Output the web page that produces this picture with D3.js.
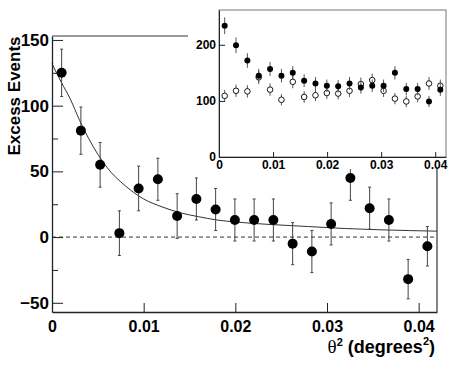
<!DOCTYPE html>
<html>
<head>
<meta charset="utf-8">
<script src="https://cdn.jsdelivr.net/npm/d3@7"></script>
<style>
  html, body { margin: 0; padding: 0; background: #fff; }
  svg { display: block; font-family: "Liberation Sans", Arial, sans-serif; }
  .tick text { font-weight: bold; fill: #000; }
</style>
</head>
<body>
<svg id="chart" width="463" height="372"></svg>
<script>
// bin centres, theta^2 in degrees^2
var thetaSq = [0.00105, 0.00315, 0.00525, 0.00735, 0.00945, 0.01155, 0.01365, 0.01575, 0.01785, 0.01995,
               0.02205, 0.02415, 0.02625, 0.02835, 0.03045, 0.03255, 0.03465, 0.03675, 0.03885, 0.04095];

// main panel: excess events
var excess    = [125, 81, 55, 3, 37, 44, 16, 29, 21, 13, 13, 13, -5, -11, 10, 45, 22, 13, -32, -7];
var excessErr = [18, 18, 17, 17, 17, 16, 17, 16, 16, 16, 16, 16, 16, 16, 16, 17, 16, 16, 15, 15];

// fitted curve
var fitX = [0, 0.001, 0.002, 0.003, 0.004, 0.005, 0.006, 0.008, 0.010, 0.012, 0.014, 0.016, 0.018, 0.020, 0.024, 0.028, 0.032, 0.036, 0.042];
var fitY = [132, 118, 105, 89, 75, 63, 53, 39, 29, 23, 18.5, 15.5, 13, 11.5, 9.5, 8, 6.5, 5.5, 4.5];

// inset: on-source (filled) and off-source (open)
var onCounts  = [234, 199, 172, 145, 157, 145, 150, 136, 131, 127, 126, 131, 124, 127, 127, 150, 121, 121, 99, 120];
var onErr     = [15, 14, 13, 12, 12.5, 12, 12, 11.5, 11.5, 11, 11, 11.5, 11, 11, 11, 12, 11, 11, 10, 11];
var offCounts = [109, 118, 117, 142, 120, 102, 134, 107, 110, 114, 113, 118, 130, 137, 118, 104, 99, 108, 131, 127];
var offErr    = [10.5, 11, 11, 12, 11, 10, 11.5, 10.5, 10.5, 10.5, 10.5, 11, 11.5, 11.5, 11, 10, 10, 10.5, 11.5, 11];

var xTicks = [0, 0.01, 0.02, 0.03, 0.04];
var yTicks = [-50, 0, 50, 100, 150];
var yMinor = [-25, 25, 75, 125];
var insetYTicks = [0, 100, 200];

var svg = d3.select('#chart');

var fmtX = function (d) { return d === 0 ? '0' : d3.format('.2f')(d); };
var fmtY = function (d) { return d < 0 ? '\u2212' + Math.abs(d) : String(d); };

// ---------- main panel ----------
var x = d3.scaleLinear().domain([0, 0.042]).range([52, 437]);
var y = d3.scaleLinear().domain([-57, 153]).range([312, 36]);

var main = svg.append('g');

main.append('line')
  .attr('x1', x(0)).attr('x2', x(0.042))
  .attr('y1', y(0)).attr('y2', y(0))
  .attr('stroke', '#333').attr('stroke-width', 1)
  .attr('stroke-dasharray', '4,3');

main.append('path')
  .datum(d3.zip(fitX, fitY))
  .attr('fill', 'none')
  .attr('stroke', '#333')
  .attr('stroke-width', 1)
  .attr('d', d3.line()
    .x(function (d) { return x(d[0]); })
    .y(function (d) { return y(d[1]); })
    .curve(d3.curveMonotoneX));

var pts = main.append('g').selectAll('g')
  .data(d3.range(thetaSq.length))
  .enter().append('g');

pts.append('line')
  .attr('x1', function (i) { return x(thetaSq[i]); })
  .attr('x2', function (i) { return x(thetaSq[i]); })
  .attr('y1', function (i) { return y(excess[i] - excessErr[i]); })
  .attr('y2', function (i) { return y(excess[i] + excessErr[i]); })
  .attr('stroke', '#444').attr('stroke-width', 1);

[-1, 1].forEach(function (s) {
  pts.append('line')
    .attr('x1', function (i) { return x(thetaSq[i]) - 1.5; })
    .attr('x2', function (i) { return x(thetaSq[i]) + 1.5; })
    .attr('y1', function (i) { return y(excess[i] + s * excessErr[i]); })
    .attr('y2', function (i) { return y(excess[i] + s * excessErr[i]); })
    .attr('stroke', '#444').attr('stroke-width', 1);
});

pts.append('circle')
  .attr('cx', function (i) { return x(thetaSq[i]); })
  .attr('cy', function (i) { return y(excess[i]); })
  .attr('r', 5)
  .attr('fill', '#000');

// axes
var xAxis = main.append('g')
  .attr('transform', 'translate(0,312)')
  .call(d3.axisBottom(x).tickValues(xTicks).tickFormat(fmtX).tickSizeInner(-9).tickSizeOuter(0).tickPadding(6));
xAxis.selectAll('text').attr('font-size', 16).attr('dy', '0.85em');

var yAxis = main.append('g')
  .attr('transform', 'translate(52,0)')
  .call(d3.axisLeft(y).tickValues(yTicks).tickFormat(fmtY).tickSizeInner(-11).tickSizeOuter(0).tickPadding(3));
yAxis.selectAll('text').attr('font-size', 17);

main.append('g')
  .attr('transform', 'translate(52,0)')
  .call(d3.axisLeft(y).tickValues(yMinor).tickFormat('').tickSizeInner(-6).tickSizeOuter(0))
  .select('.domain').remove();

main.selectAll('.domain').attr('stroke', '#222').attr('stroke-width', 1.3);
main.selectAll('.tick line').attr('stroke', '#222');

// frame: top and right
main.append('line')
  .attr('x1', 52).attr('x2', 437).attr('y1', 36).attr('y2', 36)
  .attr('stroke', '#777').attr('stroke-width', 1.3);
main.append('line')
  .attr('x1', 437).attr('x2', 437).attr('y1', 36).attr('y2', 312)
  .attr('stroke', '#444').attr('stroke-width', 1.3);

// axis titles
svg.append('text')
  .attr('transform', 'translate(20,96) rotate(-90)')
  .attr('text-anchor', 'middle')
  .attr('font-size', 17).attr('font-weight', 'bold')
  .text('Excess Events');

var xt = svg.append('text')
  .attr('x', 435).attr('y', 353)
  .attr('text-anchor', 'end')
  .attr('font-size', 18);
xt.append('tspan').attr('font-family', '"Liberation Serif", serif').attr('font-size', 19).text('\u03b8');
xt.append('tspan').attr('font-size', 11).attr('font-weight', 'bold').attr('dy', -7).text('2');
xt.append('tspan').attr('font-weight', 'bold').attr('dy', 7).text(' (degrees');
xt.append('tspan').attr('font-size', 11).attr('font-weight', 'bold').attr('dy', -8).text('2');
xt.append('tspan').attr('font-weight', 'bold').attr('dy', 8).text(')');

// ---------- inset panel ----------
svg.append('rect')
  .attr('x', 188).attr('y', 0).attr('width', 275).attr('height', 169)
  .attr('fill', '#fff');

var ix = d3.scaleLinear().domain([0, 0.042]).range([219, 446]);
var iy = d3.scaleLinear().domain([0, 262]).range([157, 10]);

var inset = svg.append('g');

inset.append('rect')
  .attr('x', 219).attr('y', 10).attr('width', 227).attr('height', 147)
  .attr('fill', 'none').attr('stroke', '#777').attr('stroke-width', 1);

function drawSeries(vals, errs, filled) {
  var g = inset.append('g').selectAll('g')
    .data(d3.range(thetaSq.length))
    .enter().append('g');
  g.append('line')
    .attr('x1', function (i) { return ix(thetaSq[i]); })
    .attr('x2', function (i) { return ix(thetaSq[i]); })
    .attr('y1', function (i) { return iy(vals[i] - errs[i]); })
    .attr('y2', function (i) { return iy(vals[i] + errs[i]); })
    .attr('stroke', '#555').attr('stroke-width', 1);
  g.append('circle')
    .attr('cx', function (i) { return ix(thetaSq[i]); })
    .attr('cy', function (i) { return iy(vals[i]); })
    .attr('r', filled ? 3 : 2.8)
    .attr('fill', filled ? '#000' : '#fff')
    .attr('stroke', '#000').attr('stroke-width', filled ? 0 : 0.9);
}
drawSeries(offCounts, offErr, false);
drawSeries(onCounts, onErr, true);

var ixAxis = inset.append('g')
  .attr('transform', 'translate(0,157)')
  .call(d3.axisBottom(ix).tickValues(xTicks).tickFormat(fmtX).tickSizeInner(-5).tickSizeOuter(0).tickPadding(2));
ixAxis.selectAll('text').attr('font-size', 12).attr('dy', '0.8em');

var iyAxis = inset.append('g')
  .attr('transform', 'translate(219,0)')
  .call(d3.axisLeft(iy).tickValues(insetYTicks).tickFormat(fmtY).tickSizeInner(-6).tickSizeOuter(0).tickPadding(3));
iyAxis.selectAll('text').attr('font-size', 12);

inset.selectAll('.domain').attr('stroke', '#222').attr('stroke-width', 1);
inset.selectAll('.tick line').attr('stroke', '#222');
</script>
</body>
</html>
